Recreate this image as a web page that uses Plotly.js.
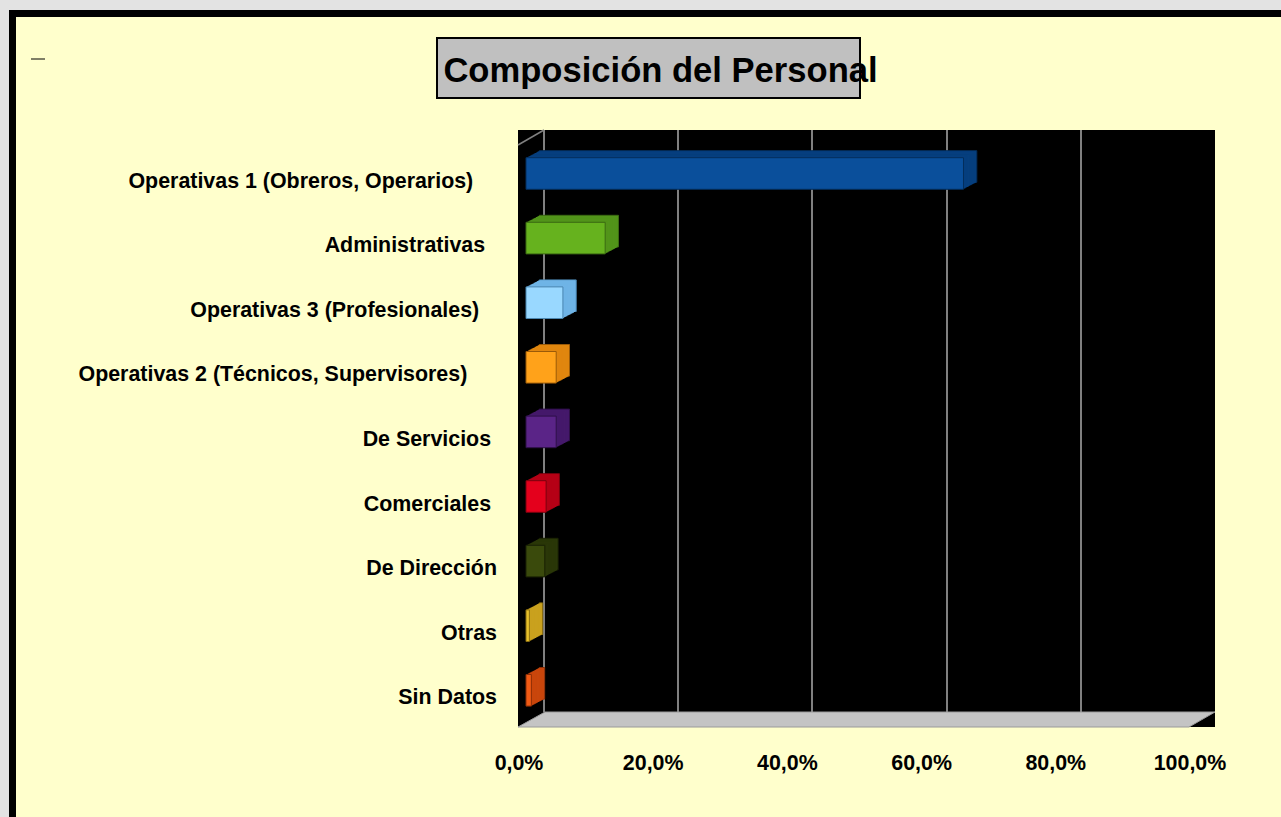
<!DOCTYPE html>
<html><head><meta charset="utf-8">
<script src="https://cdn.plot.ly/plotly-3.0.1.min.js"></script>
<style>
html,body{margin:0;padding:0;background:#e3e3e3;overflow:hidden;width:1281px;height:817px;}
#frame{position:absolute;left:9px;top:10px;border-left:7px solid #000;border-top:7px solid #000;width:1265px;height:800px;background:#ffffcc;}
#chart{width:1265px;height:800px;}
</style></head><body>
<div id="frame"><div id="chart"></div></div>
<script>
// ---------- data ----------
const chartTitle = 'Composición del Personal';
const categories = [
  'Operativas 1 (Obreros, Operarios)',
  'Administrativas',
  'Operativas 3 (Profesionales)',
  'Operativas 2 (Técnicos, Supervisores)',
  'De Servicios',
  'Comerciales',
  'De Dirección',
  'Otras',
  'Sin Datos'
];
const tickLabels = [
  'Operativas 1 (Obreros, Operarios)\u00a0\u00a0\u00a0\u00a0',
  'Administrativas\u00a0\u00a0',
  'Operativas 3 (Profesionales)\u00a0\u00a0\u00a0',
  'Operativas 2 (Técnicos, Supervisores)\u00a0\u00a0\u00a0\u00a0\u00a0',
  'De Servicios\u00a0',
  'Comerciales\u00a0',
  'De Dirección',
  'Otras',
  'Sin Datos'
];
const values = [0.652, 0.118, 0.055, 0.045, 0.045, 0.030, 0.028, 0.005, 0.008];
const xTickVals = [0, 0.2, 0.4, 0.6, 0.8, 1.0];

// ---------- styles ----------
const frontColors = ['#0a4f9b','#66b21e','#99d8ff','#ffa21a','#5a2487','#e4001c','#3a4a0c','#e8c12c','#f05a14'];
const sideColors  = ['#063f7e','#52941a','#6fb4e6','#e0860f','#45196b','#b50016','#2a3708','#c9a11e','#c9460c'];
const edgeColors  = ['#042e5c','#3b6a12','#4a86b0','#9a5a08','#2e1048','#7a000e','#1a2204','#8a6e10','#8a2e06'];

// ---------- geometry (page pixels) ----------
const W = 1265, H = 800, OX = 16, OY = 17;
const plotL = 518, plotR = 1215, plotT = 130, plotB = 712;
const pxPerUnit = 671;
const frontZero = 526, backZero = 544;
const catStep = 64.6, firstCatY = 180;
const depthX = 13.3, depthY = 7, barThick = 31.6, barLift = 6.5;

const plotW = plotR - plotL, plotH = plotB - plotT;
const xr0 = -(frontZero - plotL) / pxPerUnit, xr1 = xr0 + plotW / pxPerUnit;
const x2r0 = -(backZero - plotL) / pxPerUnit, x2r1 = x2r0 + plotW / pxPerUnit;
const yTop = -(firstCatY - plotT) / catStep, yBot = yTop + plotH / catStep;
const barW = barThick / catStep;
const frontOffset = -barW / 2 - barLift / catStep;

const PX = x => (x - plotL) / plotW;
const PY = y => (plotB - y) / plotH;

const fmt = v => (v * 100).toFixed(1).replace('.', ',') + '%';
const boldFont = { family: '"Liberation Sans", Arial, sans-serif', size: 21.4, color: '#000', weight: 'bold' };

const traces = [];
const N = 12;
for (let i = N; i >= 1; i--) {
  const t = i / N;
  traces.push({
    type: 'bar', orientation: 'h', y: categories, x: values,
    base: t * depthX / pxPerUnit,
    offset: frontOffset - t * depthY / catStep,
    width: barW,
    marker: { color: sideColors, line: { width: i === N ? 1 : 0, color: edgeColors } },
    text: i === N ? values.map(fmt) : undefined,
    textposition: i === N ? 'outside' : 'none',
    textfont: { color: '#000', size: 17, family: boldFont.family, weight: 'bold' },
    cliponaxis: false, hoverinfo: 'skip', showlegend: false
  });
}
traces.push({
  type: 'bar', orientation: 'h', y: categories, x: values,
  offset: frontOffset, width: barW,
  marker: { color: frontColors, line: { width: 1, color: edgeColors } },
  hovertemplate: '%{y}: %{x:.1%}<extra></extra>', showlegend: false
});
// empty trace so the back-wall grid axis is drawn
traces.push({ type: 'scatter', x: [], y: [], xaxis: 'x2', yaxis: 'y', showlegend: false, hoverinfo: 'skip' });

const layout = {
  width: W, height: H,
  margin: { l: plotL - OX, r: OX + W - plotR, t: plotT - OY, b: OY + H - plotB, pad: 0 },
  paper_bgcolor: 'rgba(0,0,0,0)', plot_bgcolor: '#000',
  separators: ',.',
  barmode: 'overlay', showlegend: false,
  font: { family: boldFont.family, color: '#000' },
  title: {
    text: chartTitle,
    font: { family: boldFont.family, size: 34.6, color: '#000', weight: 'bold' },
    x: (660.5 - OX) / W, xanchor: 'center', xref: 'container',
    y: 1 - (70 - OY) / H, yanchor: 'middle', yref: 'container'
  },
  xaxis: {
    range: [xr0, xr1], tickvals: xTickVals, tickformat: '.1%',
    showgrid: false, zeroline: false, showline: false, ticks: '',
    ticklabelshift: -7, ticklabelstandoff: 36,
    tickfont: boldFont, fixedrange: true
  },
  xaxis2: {
    overlaying: 'x', range: [x2r0, x2r1], tickvals: xTickVals,
    showgrid: true, gridcolor: '#808080', gridwidth: 1.5,
    showticklabels: false, ticks: '', zeroline: false, showline: false, fixedrange: true
  },
  yaxis: {
    type: 'category', range: [yBot, yTop],
    tickvals: categories, ticktext: tickLabels,
    showgrid: false, zeroline: false, showline: false, ticks: '',
    ticklabelstandoff: 20, tickfont: boldFont, fixedrange: true
  },
  shapes: [
    { type: 'rect', xref: 'paper', yref: 'paper', x0: PX(518), x1: PX(1215), y0: PY(727), y1: PY(712),
      fillcolor: '#000', line: { width: 0 }, layer: 'above' },
    { type: 'path', xref: 'paper', yref: 'paper',
      path: `M ${PX(518)} ${PY(727)} L ${PX(1189)} ${PY(727)} L ${PX(1215)} ${PY(712)} L ${PX(545)} ${PY(712)} Z`,
      fillcolor: '#c4c4c4', line: { width: 1, color: '#9a9a9a' }, layer: 'above' },
    { type: 'line', xref: 'paper', yref: 'paper', x0: PX(518), y0: PY(145), x1: PX(544), y1: PY(130),
      line: { color: '#808080', width: 1.5 }, layer: 'above' },
    { type: 'rect', xref: 'paper', yref: 'paper', x0: PX(437), x1: PX(860), y0: PY(98), y1: PY(38),
      fillcolor: '#c0c0c0', line: { width: 2, color: '#000' }, layer: 'above' },
    { type: 'line', xref: 'paper', yref: 'paper', x0: PX(31), x1: PX(45), y0: PY(59), y1: PY(59),
      line: { color: '#000', width: 1 }, layer: 'above' }
  ]
};

Plotly.newPlot('chart', traces, layout, { displayModeBar: false, staticPlot: false });
</script>
</body></html>
